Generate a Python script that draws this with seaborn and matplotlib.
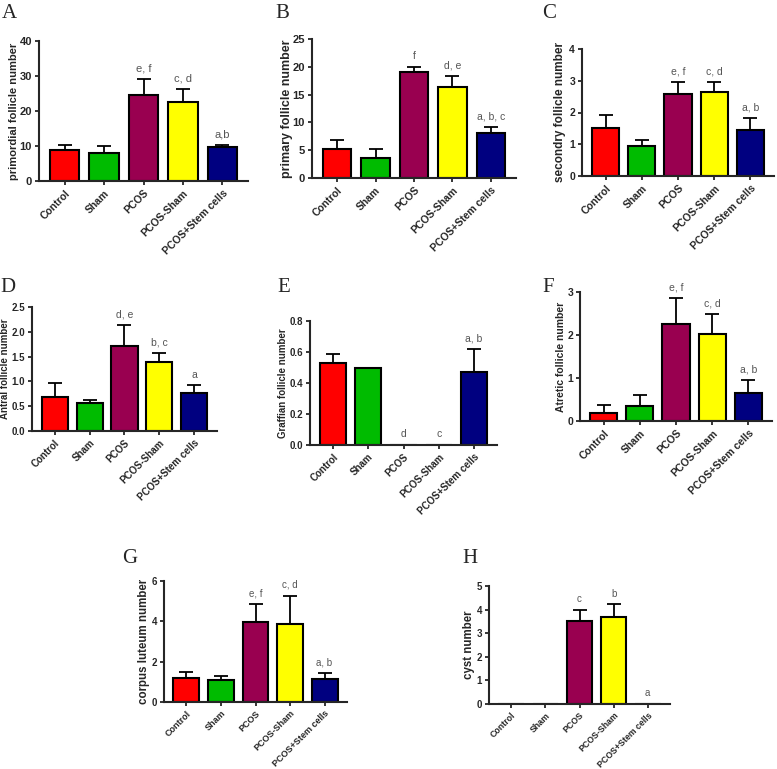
import numpy as np
import matplotlib
matplotlib.use("Agg")
import matplotlib.pyplot as plt
import seaborn as sns

sns.set_style("ticks")
plt.rcParams['font.family'] = ['Liberation Sans', 'DejaVu Sans']

groups = ["Control", "Sham", "PCOS", "PCOS-Sham", "PCOS+Stem cells"]
colors = ["#ff0000", "#00bb00", "#990050", "#ffff00", "#000080"]

primordial = [9.0, 8.0, 24.6, 22.6, 9.8]
primordial_err = [1.2, 2.1, 4.6, 3.8, 0.5]
primary = [5.2, 3.6, 19.0, 16.3, 8.1]
primary_err = [1.6, 1.6, 1.0, 2.1, 1.0]
secondary = [1.52, 0.96, 2.58, 2.65, 1.46]
secondary_err = [0.41, 0.16, 0.38, 0.31, 0.36]
antral = [0.69, 0.56, 1.72, 1.39, 0.76]
antral_err = [0.28, 0.06, 0.42, 0.18, 0.16]
graffian = [0.53, 0.50, 0.0, 0.0, 0.47]
graffian_err = [0.06, 0.0, 0.0, 0.0, 0.15]
atretic = [0.18, 0.35, 2.25, 2.02, 0.65]
atretic_err = [0.20, 0.25, 0.60, 0.46, 0.31]
luteum = [1.20, 1.10, 3.98, 3.87, 1.15]
luteum_err = [0.27, 0.17, 0.87, 1.41, 0.30]
cyst = [0.0, 0.0, 3.5, 3.7, 0.0]
cyst_err = [0.0, 0.0, 0.5, 0.52, 0.0]

panels = [
    # letter, ylabel, values, errors, labels, yticks, rect px (l, t, r, b), letter px,
    # ylabel right edge px, font sizes (ylabel, yticks, xticks, notes)
    ("A", "primordial follicle number", primordial, primordial_err,
     ["", "", "e, f", "c, d", "a,b"], [0, 10, 20, 30, 40], (39, 41, 248, 181), (2, 18), 19,
     (8, 8, 7.5, 8)),
    ("B", "primary follicle number", primary, primary_err,
     ["", "", "f", "d, e", "a, b, c"], [0, 5, 10, 15, 20, 25], (312, 39, 516, 178), (275, 18), 293,
     (9, 8, 7.5, 7.5)),
    ("C", "secondry follicle number", secondary, secondary_err,
     ["", "", "e, f", "c, d", "a, b"], [0, 1, 2, 3, 4], (582, 49, 774, 176), (542, 18), 566,
     (8.5, 7.5, 7.5, 7.5)),
    ("D", "Antral follicle number", antral, antral_err,
     ["", "", "d, e", "b, c", "a"], [0.0, 0.5, 1.0, 1.5, 2.0, 2.5], (32, 307, 217, 431), (0, 292), 10,
     (7, 7, 7, 7.5)),
    ("E", "Graffian follicle number", graffian, graffian_err,
     ["", "", "d", "c", "a, b"], [0.0, 0.2, 0.4, 0.6, 0.8], (310, 321, 497, 445), (277, 292), 288,
     (7, 7, 7, 7.5)),
    ("F", "Atretic follicle number", atretic, atretic_err,
     ["", "", "e, f", "c, d", "a, b"], [0, 1, 2, 3], (580, 292, 772, 421), (542, 292), 566,
     (7.5, 7.5, 7.5, 7.5)),
    ("G", "corpus luteum number", luteum, luteum_err,
     ["", "", "e, f", "c, d", "a, b"], [0, 2, 4, 6], (164, 581, 347, 702), (122, 563), 150,
     (8.3, 7, 6.5, 7)),
    ("H", "cyst number", cyst, cyst_err,
     ["", "", "c", "b", "a"], [0, 1, 2, 3, 4, 5], (489, 586, 670, 704), (462, 563), 475,
     (8.3, 7, 6.3, 7)),
]

W, H = 777, 769
fig = plt.figure(figsize=(W / 100, H / 100), dpi=100)

for letter, ylabel, vals, errs, notes, yticks, rect, lpos, ylx, fs in panels:
    l, t, r, b = rect
    ax = fig.add_axes([l / W, 1 - b / H, (r - l) / W, (b - t) / H])
    sns.barplot(x=groups, y=vals, hue=groups, palette=colors, legend=False, saturation=1,
                edgecolor="black", linewidth=1.5, width=0.75, ax=ax)
    idx = [i for i, e in enumerate(errs) if e > 0]
    ax.errorbar(idx, [vals[i] for i in idx],
                yerr=[[0] * len(idx), [errs[i] for i in idx]],
                fmt="none", ecolor="black", elinewidth=1.3, capsize=5, capthick=1.3)
    for i, note in enumerate(notes):
        if note:
            ax.annotate(note, (i, vals[i] + errs[i]), xytext=(0, 4),
                        textcoords="offset points", ha="center", va="bottom",
                        fontsize=fs[3], color="#555555")
    ax.set_xlim(-0.65, 4.65)
    ax.set_ylim(yticks[0], yticks[-1])
    ax.set_yticks(yticks)
    if isinstance(yticks[1], float):
        ax.set_yticklabels([f"{v:.1f}" for v in yticks])
    ax.set_ylabel(ylabel, fontsize=fs[0], fontweight="bold")
    ax.yaxis.set_label_coords((ylx - l) / (r - l), 0.5)
    ax.set_xlabel("")
    ax.tick_params(axis="both", width=1.3, length=3, pad=2)
    ax.tick_params(axis="y", labelsize=fs[1])
    ax.tick_params(axis="x", labelsize=fs[2])
    for lab in ax.get_xticklabels() + ax.get_yticklabels():
        lab.set_fontweight("bold")
    plt.setp(ax.get_xticklabels(), rotation=45, ha="right", rotation_mode="anchor")
    for side in ["left", "bottom"]:
        ax.spines[side].set_linewidth(1.5)
    sns.despine(ax=ax)
    fig.text(lpos[0] / W, 1 - lpos[1] / H, letter, fontsize=15,
             family=["Liberation Serif", "DejaVu Serif"], ha="left", va="baseline")

fig.savefig("out.png", dpi=100)
